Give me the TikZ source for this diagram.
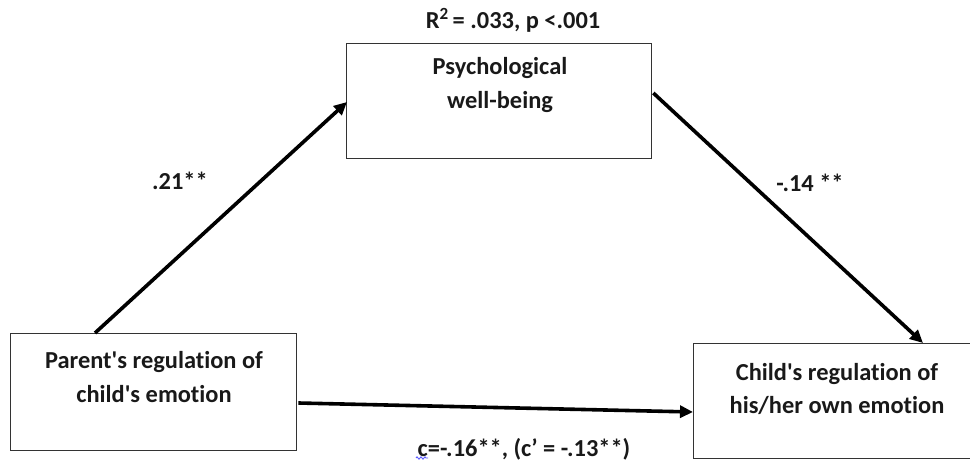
\documentclass[tikz,border=0pt]{standalone}
\usepackage{fontspec}
\setmainfont{Carlito}[Ligatures={NoCommon}]
\usetikzlibrary{arrows.meta,calc,decorations.pathmorphing}
\newcommand{\sq}{\textquotesingle}
\begin{document}
\begin{tikzpicture}[x=1bp,y=-1bp,
  box/.style={draw=black!80,line width=1.3bp,rectangle,inner sep=0pt,anchor=north west},
  txt/.style={font=\fontsize{24.5}{34}\selectfont\bfseries,align=center,inner sep=0pt,text=black!90},
  lab/.style={font=\fontsize{24.5}{28}\selectfont\bfseries,inner sep=0pt,text=black!90},
  arr/.style={line width=3.6bp,-{Triangle[length=13bp,width=12bp]}}]
\useasboundingbox (0,0) rectangle (970,461);
\begin{scope}
\clip (0,0) rectangle (970,461);
\node[box,minimum width=286bp,minimum height=117bp] (pl) at (10,333) {};
\node[box,minimum width=305bp,minimum height=115bp] (pw) at (346,43) {};
\node[box,minimum width=288bp,minimum height=115bp] (pc) at (693,343) {};
\end{scope}
\node[txt] (tl) at (154,377) {Parent\sq s regulation of\\child\sq s emotion};
\node[txt] (tw) at (500,85) {Psychological\\well-being};
\node[txt] (tc) at (837,389) {Child\sq s regulation of\\his/her own emotion};
\node[lab] (r2) at (513,20) {R\textsuperscript{2}\,= .033, p <.001};
\node[lab] (a) at (180,181) {.21**};
\node[lab] (b) at (810,183) {-.14 **};
\node[lab] (c) at (524,449) {c=-.16**, (c’ = -.13**)};
\draw[arr] ($(pl.north west)+(85,0)$) -- ($(pw.north west)+(1,59)$);
\draw[arr] ($(pw.north east)+(1,50)$) -- ($(pc.north west)+(230,0)$);
\draw[arr] ($(pl.north east)+(1,70)$) -- ($(pc.north west)+(0,69)$);
\coordinate (sq1) at (416,458);
\coordinate (sq2) at (428,458);
\draw[blue!70,line width=0.8bp,decorate,decoration={zigzag,amplitude=1.2bp,segment length=4bp}] (sq1) -- (sq2);
\end{tikzpicture}
\end{document}
